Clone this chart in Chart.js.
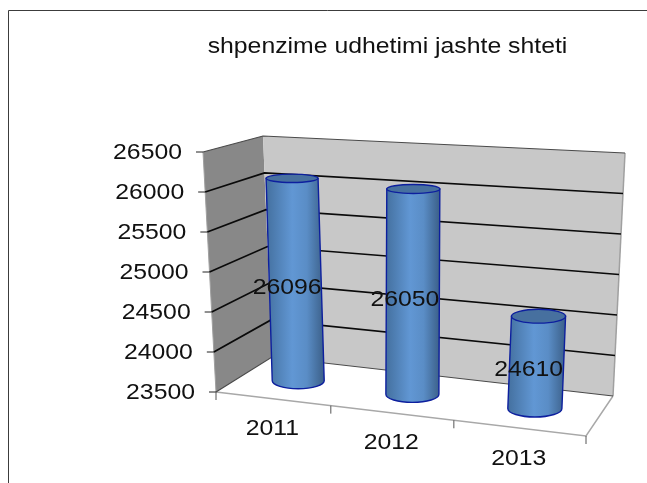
<!DOCTYPE html>
<html>
<head>
<meta charset="utf-8">
<title>shpenzime udhetimi jashte shteti</title>
<script src="https://cdn.jsdelivr.net/npm/chart.js@4"></script>
<style>
    html, body { margin: 0; padding: 0; background: #fff; }
    canvas { display: block; }
</style>
</head>
<body>
<canvas id="chart" width="647" height="483"></canvas>
<script>
const chartTitle = 'shpenzime udhetimi jashte shteti';
const years = ['2011', '2012', '2013'];
const spending = [26096, 26050, 24610];
const axisMin = 23500;
const axisMax = 26500;
const axisStep = 500;

// corners of the 3D box: [x, y] on screen
const BOX = {
    floorFrontL: [216, 392], floorFrontR: [586, 436],
    floorBackL: [272, 357], floorBackR: [613, 396],
    topFrontL: [203, 152], topFrontR: [603, 172],
    topBackL: [263, 136], topBackR: [625, 153]
};

const lerp = (a, b, k) => a + (b - a) * k;
const lerp2 = (p, q, k) => [lerp(p[0], q[0], k), lerp(p[1], q[1], k)];

// u: along the category axis, t: up the value axis, d: into the chart
function project(u, t, d) {
    const w = 0.9 * u / (1 - 0.1 * u); // right side is closer to the viewer
    const floor = lerp2(lerp2(BOX.floorFrontL, BOX.floorFrontR, w), lerp2(BOX.floorBackL, BOX.floorBackR, w), d);
    const top = lerp2(lerp2(BOX.topFrontL, BOX.topFrontR, w), lerp2(BOX.topBackL, BOX.topBackR, w), d);
    return lerp2(floor, top, t);
}

function polygon(ctx, pts, fill) {
    ctx.beginPath();
    pts.forEach((p, i) => i ? ctx.lineTo(p[0], p[1]) : ctx.moveTo(p[0], p[1]));
    ctx.closePath();
    ctx.fillStyle = fill;
    ctx.fill();
}

function line(ctx, pts, color, width) {
    ctx.beginPath();
    pts.forEach((p, i) => i ? ctx.lineTo(p[0], p[1]) : ctx.moveTo(p[0], p[1]));
    ctx.strokeStyle = color;
    ctx.lineWidth = width;
    ctx.stroke();
}

// the source picture is stretched sideways, so the text is too
function stretchedText(ctx, text, x, y, align) {
    const sx = 1.127;
    ctx.save();
    ctx.font = '22px "Liberation Sans", Arial, sans-serif';
    ctx.fillStyle = '#111';
    ctx.textAlign = align || 'center';
    ctx.textBaseline = 'middle';
    ctx.translate(x, y);
    ctx.scale(sx, 1);
    ctx.fillText(text, 0, 0);
    ctx.restore();
}

function fracY(chart, value) {
    const area = chart.chartArea;
    return (area.bottom - chart.scales.y.getPixelForValue(value)) / (area.bottom - area.top);
}

function drawBox(chart) {
    const ctx = chart.ctx;
    const b = BOX;

    // frame of the chart object
    line(ctx, [[8.5, 483], [8.5, 10.5], [647, 10.5]], '#3c3c3c', 1);

    polygon(ctx, [b.floorFrontL, b.floorFrontR, b.floorBackR, b.floorBackL], '#ffffff');
    polygon(ctx, [b.topFrontL, b.topBackL, b.floorBackL, b.floorFrontL], '#888888');
    polygon(ctx, [b.topBackL, b.topBackR, b.floorBackR, b.floorBackL], '#c8c8c8');

    line(ctx, [b.topFrontL, b.floorFrontL], '#a0a0a0', 1);
    line(ctx, [b.topBackR, b.floorBackR], '#a0a0a0', 1.5);
    line(ctx, [b.floorFrontL, b.floorFrontR, b.floorBackR], '#a8a8a8', 1.5);

    chart.scales.y.ticks.forEach(tick => {
        const t = fracY(chart, tick.value);
        const front = project(0, t, 0);
        const edge = t === 0 || t === 1;
        line(ctx, [front, project(0, t, 1), project(1, t, 1)], edge ? '#4a4a4a' : '#0a0a0a', edge ? 1.2 : 1.7);
        line(ctx, [[front[0] - 7, front[1]], front], '#222222', 1);
        stretchedText(ctx, String(tick.value), front[0] - 21, front[1] + 1, 'right');
    });

    // ticks between the categories and the year labels
    const xScale = chart.scales.x;
    const area = chart.chartArea;
    const n = years.length;
    for (let i = 0; i <= n; i++) {
        const p = project(i / n, 0, 0);
        line(ctx, [p, [p[0], p[1] + 8]], '#555555', 1);
    }
    years.forEach((year, i) => {
        const u = (xScale.getPixelForValue(i) - area.left) / area.width;
        const p = project(u, 0, 0);
        stretchedText(ctx, year, p[0], p[1] + 30.5);
    });
}

function drawCylinders(chart) {
    const ctx = chart.ctx;
    const area = chart.chartArea;
    const bars = chart.getDatasetMeta(0).data;

    bars.forEach(bar => {
        const u = (bar.x - area.left) / area.width;
        const t = (area.bottom - bar.y) / area.height;
        const bottom = project(u, 0, 0.5);
        const top = project(u, t, 0.5);
        const rx = bar.width / 2 * (0.97 + 0.06 * u);
        const ryBottom = 0.22 * (project(u, 0, 0)[1] - project(u, 0, 1)[1]);
        const ryTop = 0.22 * (project(u, t, 0)[1] - project(u, t, 1)[1]);

        const side = ctx.createLinearGradient(Math.min(bottom[0], top[0]) - rx, 0, Math.max(bottom[0], top[0]) + rx, 0);
        side.addColorStop(0, '#44709f');
        side.addColorStop(0.45, '#6197d4');
        side.addColorStop(0.7, '#5a8dc6');
        side.addColorStop(1, '#3b5f88');

        ctx.beginPath();
        ctx.moveTo(top[0] - rx, top[1]);
        ctx.lineTo(bottom[0] - rx, bottom[1]);
        ctx.ellipse(bottom[0], bottom[1], rx, ryBottom, 0, Math.PI, 0, true);
        ctx.lineTo(top[0] + rx, top[1]);
        ctx.closePath();
        ctx.fillStyle = side;
        ctx.fill();
        ctx.strokeStyle = '#0d1f9e';
        ctx.lineWidth = 1.4;
        ctx.stroke();

        ctx.beginPath();
        ctx.ellipse(top[0], top[1], rx, ryTop, 0, 0, Math.PI * 2);
        ctx.fillStyle = '#47709f';
        ctx.fill();
        ctx.stroke();
    });

    bars.forEach((bar, i) => {
        const u = (bar.x - area.left) / area.width;
        const t = (area.bottom - bar.y) / area.height;
        const bottom = project(u, 0, 0.5);
        const top = project(u, t, 0.5);
        stretchedText(ctx, String(spending[i]), (top[0] + bottom[0]) / 2 - 8, (top[1] + bottom[1]) / 2 + 8);
    });
}

const box3d = {
    id: 'box3d',
    beforeDatasetsDraw(chart) {
        drawBox(chart);
    },
    afterDatasetsDraw(chart) {
        drawCylinders(chart);
        stretchedText(chart.ctx, chartTitle, 387.5, 47);
    }
};

new Chart(document.getElementById('chart'), {
    type: 'bar',
    data: {
        labels: years,
        datasets: [{
            label: chartTitle,
            data: spending,
            backgroundColor: 'transparent',
            categoryPercentage: 0.43,
            barPercentage: 1
        }]
    },
    options: {
        responsive: false,
        animation: false,
        layout: { padding: { left: 216, right: 61, top: 152, bottom: 91 } },
        plugins: {
            legend: { display: false },
            title: { display: false, text: chartTitle },
            tooltip: { enabled: false }
        },
        scales: {
            x: { display: false },
            y: { display: false, min: axisMin, max: axisMax, ticks: { stepSize: axisStep } }
        }
    },
    plugins: [box3d]
});
</script>
</body>
</html>
